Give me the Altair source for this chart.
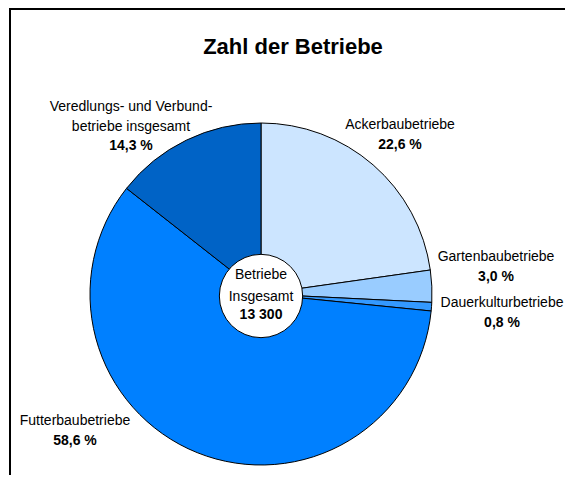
import altair as alt
import pandas as pd

# ---- data ----
categories = ["Ackerbaubetriebe", "Gartenbaubetriebe", "Dauerkulturbetriebe",
              "Futterbaubetriebe", "Veredlungs- und Verbundbetriebe insgesamt"]
shares = [22.6, 3.0, 0.8, 58.6, 14.3]
share_labels = ["22,6 %", "3,0 %", "0,8 %", "58,6 %", "14,3 %"]
name_lines = [["Ackerbaubetriebe"], ["Gartenbaubetriebe"], ["Dauerkulturbetriebe"],
              ["Futterbaubetriebe"], ["Veredlungs- und Verbund-", "betriebe insgesamt"]]
total_label = ["Betriebe", "Insgesamt"]
total_value = "13 300"
title_text = "Zahl der Betriebe"

# ---- style / layout ----
colors = ["#CCE5FF", "#99CCFF", "#3399FF", "#0080FF", "#0063C6"]
FONT = "Liberation Sans, Arial, Helvetica, sans-serif"
W, H = 557, 467
CX, CY, R = 253, 286, 171
# label anchor (centre x, y of first line) in chart pixels
label_pos = [(392, 117), (488, 249), (494, 295), (67, 413), (123, 99)]
LINE = 19.5

pie_df = pd.DataFrame({"cat": categories, "share": shares, "order": range(len(shares))})

rows = []
for i, (lines, pct) in enumerate(zip(name_lines, share_labels)):
    x, y = label_pos[i]
    for j, ln in enumerate(lines):
        rows.append({"x": x, "y": y + j * LINE, "t": ln, "w": "normal"})
    rows.append({"x": x, "y": y + len(lines) * LINE, "t": pct, "w": "bold"})
lab_df = pd.DataFrame(rows)

center_df = pd.DataFrame({
    "x": [CX] * 3,
    "y": [CY - 19, CY + 2.5, CY + 21],
    "t": total_label + [total_value],
    "w": ["normal", "normal", "bold"],
})

frame = alt.Chart(pd.DataFrame({"a": [0]})).mark_rect(
    fillOpacity=0, stroke="black", strokeWidth=2
).encode(x=alt.value(2), x2=alt.value(W + 20), y=alt.value(1), y2=alt.value(H + 20))

pie = alt.Chart(pie_df).mark_arc(radius=R, stroke="black", strokeWidth=1).encode(
    theta=alt.Theta("share:Q", stack=True),
    color=alt.Color("cat:N", scale=alt.Scale(domain=categories, range=colors), legend=None),
    order=alt.Order("order:Q"),
    x=alt.value(CX), y=alt.value(CY),
)

hole = alt.Chart(pd.DataFrame({"a": [0]})).mark_circle(
    size=3.14159 * 47 * 47, fill="white", stroke="black", strokeWidth=1, opacity=1
).encode(x=alt.value(CX), y=alt.value(CY + 2))

def text_layer(df, size):
    base = alt.Chart(df)
    normal = base.transform_filter("datum.w == 'normal'").mark_text(
        font=FONT, fontSize=size, color="black", align="center", baseline="middle"
    ).encode(x=alt.X("x:Q", scale=None), y=alt.Y("y:Q", scale=None), text="t:N")
    bold = base.transform_filter("datum.w == 'bold'").mark_text(
        font=FONT, fontSize=size, fontWeight="bold", color="black", align="center", baseline="middle"
    ).encode(x=alt.X("x:Q", scale=None), y=alt.Y("y:Q", scale=None), text="t:N")
    return normal + bold

title = alt.Chart(pd.DataFrame({"t": [title_text]})).mark_text(
    font=FONT, fontSize=22, fontWeight="bold", color="black", align="center", baseline="middle"
).encode(x=alt.value(285), y=alt.value(39), text="t:N")

chart = alt.layer(
    frame, pie, hole, text_layer(lab_df, 14), text_layer(center_df, 14), title
).properties(width=W, height=H, padding=0, autosize="none").configure_view(stroke=None)

chart.save("out.html", embed_options={"renderer": "svg", "actions": False})
